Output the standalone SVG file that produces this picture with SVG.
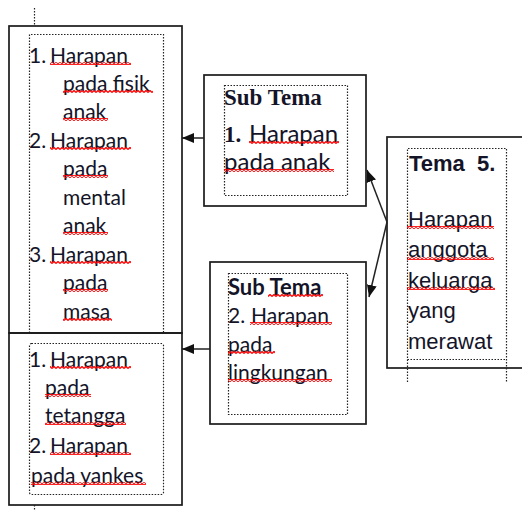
<svg xmlns="http://www.w3.org/2000/svg" width="522" height="510" viewBox="0 0 522 510">
<style>
.box{fill:none;stroke:#1a1a1a;stroke-width:1.7}
.dot{fill:none;stroke:#222;stroke-width:1.2;stroke-dasharray:1.5 1.5}
.c{font-family:Lato,"Liberation Sans",sans-serif;font-size:21px;fill:#141428}
.cb{font-family:Lato,"Liberation Sans",sans-serif;font-size:22px;font-weight:bold;fill:#141428}
.c2{font-family:Lato,"Liberation Sans",sans-serif;font-size:24px;fill:#141428}
.tb{font-family:"Liberation Serif",serif;font-size:23px;font-weight:bold;fill:#141428}
.ar{font-family:"Liberation Sans",Arial,sans-serif;font-size:22px;fill:#141428}
.arb{font-family:"Liberation Sans",Arial,sans-serif;font-size:22px;font-weight:bold;fill:#141428}
.sq{fill:url(#squig)}
.con{stroke:#222;stroke-width:1.5;fill:none;marker-end:url(#ah)}
</style>
<defs>
<pattern id="squig" patternUnits="userSpaceOnUse" width="4" height="3">
<path d="M0 2.5 L2 0.5 L4 2.5" fill="none" stroke="#f00" stroke-width="1.3"/>
</pattern>
<marker id="ah" markerUnits="userSpaceOnUse" markerWidth="12" markerHeight="10" refX="12" refY="5" orient="auto">
<path d="M0 0 L12 5 L0 10 Z" fill="#111"/>
</marker>
</defs>

<g id="n-list1">
<line class="dot" x1="34.5" y1="8" x2="34.5" y2="26"/>
<rect class="box" x="9" y="26" width="173" height="307"/>
<path class="dot" d="M29.5 333 V34.5 H163.5 V333"/>
<text class="c" x="29" y="63">1.<tspan x="50">Harapan</tspan></text>
<text class="c" x="63" y="91">pada fisik</text>
<text class="c" x="63" y="119">anak</text>
<text class="c" x="29" y="148">2.<tspan x="50">Harapan</tspan></text>
<text class="c" x="63" y="176">pada</text>
<text class="c" x="63" y="205">mental</text>
<text class="c" x="63" y="233">anak</text>
<text class="c" x="29" y="262">3.<tspan x="50">Harapan</tspan></text>
<text class="c" x="63" y="290">pada</text>
<text class="c" x="63" y="319">masa</text>
<rect class="sq" x="50" y="62" width="81" height="3"/>
<rect class="sq" x="63" y="90" width="90" height="3"/>
<rect class="sq" x="63" y="118" width="45" height="3"/>
<rect class="sq" x="50" y="147" width="81" height="3"/>
<rect class="sq" x="63" y="175" width="45" height="3"/>
<rect class="sq" x="63" y="232" width="45" height="3"/>
<rect class="sq" x="50" y="261" width="81" height="3"/>
<rect class="sq" x="63" y="289" width="45" height="3"/>
<rect class="sq" x="63" y="318" width="49" height="3"/>
</g>

<g id="n-list2">
<rect class="box" x="9" y="333" width="173" height="172"/>
<rect class="dot" x="29.5" y="343.5" width="134" height="151" rx="2"/>
<line class="dot" x1="34.5" y1="505" x2="34.5" y2="510"/>
<text class="c" x="29" y="367">1.<tspan x="50">Harapan</tspan></text>
<text class="c" x="45" y="395">pada</text>
<text class="c" x="45" y="423">tetangga</text>
<text class="c" x="29" y="453">2.<tspan x="50">Harapan</tspan></text>
<text class="c" x="31" y="483">pada yankes</text>
<rect class="sq" x="50" y="366" width="81" height="3"/>
<rect class="sq" x="45" y="394" width="46" height="3"/>
<rect class="sq" x="45" y="422" width="81" height="3"/>
<rect class="sq" x="50" y="452" width="81" height="3"/>
<rect class="sq" x="31" y="482" width="115" height="3"/>
</g>

<g id="n-sub1">
<rect class="box" x="204" y="75" width="162" height="131"/>
<rect class="dot" x="224.5" y="85.5" width="123" height="110"/>
<text class="tb" x="224" y="105">Sub Tema</text>
<text class="c2" x="224" y="142"><tspan class="tb" font-size="24">1.</tspan><tspan x="249">Harapan</tspan></text>
<text class="c2" x="224" y="170">pada anak</text>
<rect class="sq" x="249" y="141" width="90" height="3"/>
<rect class="sq" x="224" y="169" width="110" height="3"/>
</g>

<g id="n-sub2">
<rect class="box" x="210" y="262" width="156" height="162"/>
<rect class="dot" x="228.5" y="273.5" width="119" height="141"/>
<text class="cb" x="228" y="295">Sub Tema</text>
<text class="c" x="228" y="323">2.<tspan x="251">Harapan</tspan></text>
<text class="c" x="228" y="352">pada</text>
<text class="c" x="228" y="380">lingkungan</text>
<rect class="sq" x="268" y="294" width="55" height="3"/>
<rect class="sq" x="250" y="322" width="82" height="3"/>
<rect class="sq" x="228" y="351" width="47" height="3"/>
<rect class="sq" x="228" y="379" width="104" height="3"/>
</g>

<g id="n-tema5">
<rect class="box" x="387" y="137" width="150" height="231"/>
<path class="dot" d="M407.5 382 V148.5 H506.5 V382 M407.5 359.5 H506.5"/>
<text class="arb" x="409" y="171" xml:space="preserve">Tema  5.</text>
<text class="ar" x="408" y="227">Harapan</text>
<text class="ar" x="408" y="257">anggota</text>
<text class="ar" x="408" y="288">keluarga</text>
<text class="ar" x="408" y="318">yang</text>
<text class="ar" x="408" y="349">merawat</text>
<rect class="sq" x="407" y="226" width="87" height="3"/>
<rect class="sq" x="407" y="257" width="87" height="3"/>
<rect class="sq" x="407" y="287" width="88" height="3"/>
</g>

<g id="connectors">
<line class="con" x1="204" y1="138" x2="182" y2="138"/>
<line class="con" x1="210" y1="349" x2="182" y2="349"/>
<line class="con" x1="387" y1="222" x2="367" y2="170"/>
<line class="con" x1="387" y1="222" x2="369" y2="297"/>
</g>
</svg>
